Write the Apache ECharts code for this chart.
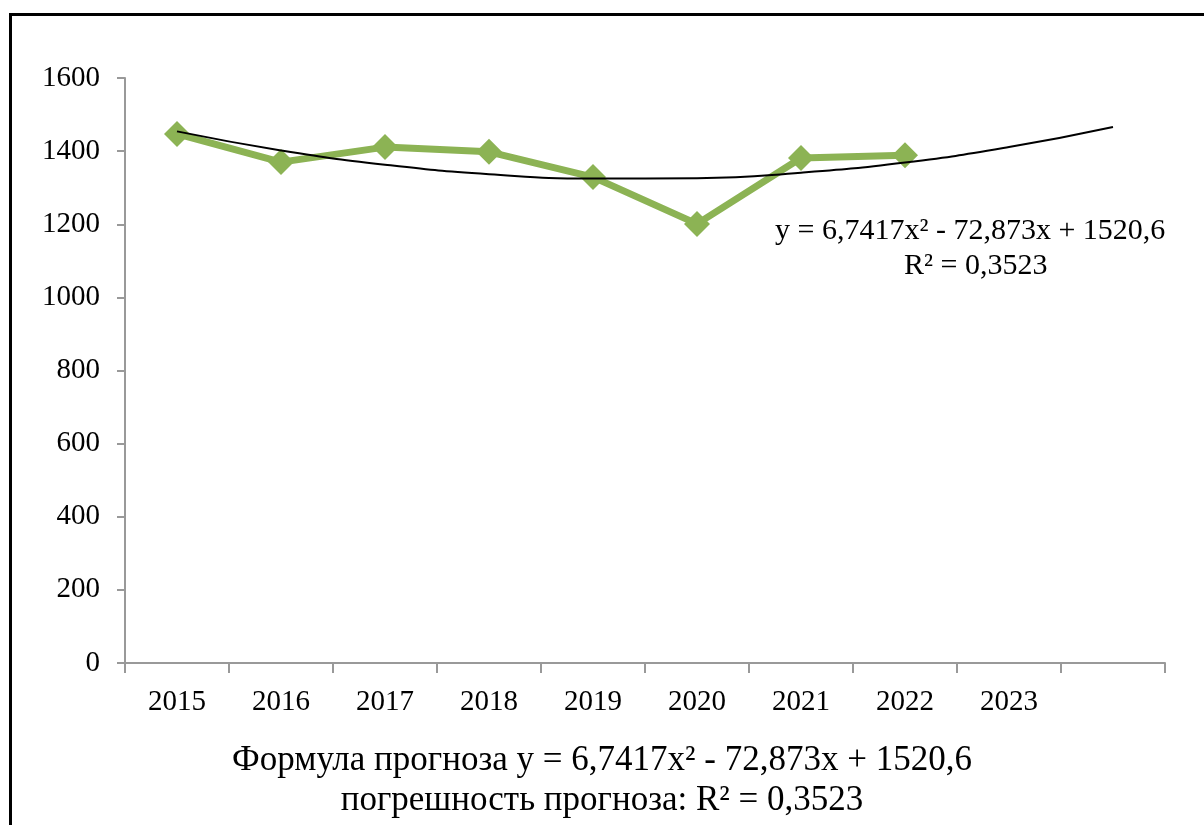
<!DOCTYPE html>
<html>
<head>
<meta charset="utf-8">
<script src="https://cdn.jsdelivr.net/npm/echarts@6/dist/echarts.min.js"></script>
<style>
  html, body { margin: 0; padding: 0; background: #fff; }
  #chart { width: 1204px; height: 825px; }
</style>
</head>
<body>
<div id="chart"></div>
<script>
// годы (последний слот пустой — туда продлена линия тренда)
var years = ['2015', '2016', '2017', '2018', '2019', '2020', '2021', '2022', '2023', ''];
var actual = [1447, 1370, 1411, 1398, 1329, 1201, 1381, 1389, null, null];
// значения полиномиального тренда
var trend = [1454, 1402, 1363, 1337, 1325, 1326, 1341, 1369, 1411, 1466];
var yTicks = [0, 200, 400, 600, 800, 1000, 1200, 1400, 1600];

var font = '"Liberation Serif", "Times New Roman", serif';
var chart = echarts.init(document.getElementById('chart'));

var option = {
  backgroundColor: '#fff',
  animation: false,
  grid: { left: 125, right: 39, top: 78, bottom: 162, containLabel: false },
  xAxis: {
    type: 'category',
    data: years,
    boundaryGap: true,
    axisLine: { lineStyle: { color: '#999', width: 2 } },
    axisTick: { show: true, length: 10, lineStyle: { color: '#999', width: 2 } },
    axisLabel: { color: '#000', fontFamily: font, fontSize: 29, margin: 25 },
    splitLine: { show: false }
  },
  yAxis: {
    type: 'value',
    min: yTicks[0],
    max: yTicks[yTicks.length - 1],
    interval: 200,
    axisLine: { show: true, lineStyle: { color: '#999', width: 2 } },
    axisTick: { show: true, length: 8, lineStyle: { color: '#999', width: 2 } },
    axisLabel: {
      color: '#000', fontFamily: font, fontSize: 29, margin: 25,
      formatter: function (v) { return String(v); }
    },
    splitLine: { show: false }
  },
  series: [
    {
      name: 'факт',
      type: 'line',
      data: actual,
      symbol: 'diamond',
      symbolSize: 26,
      lineStyle: { color: '#8cb354', width: 7 },
      itemStyle: { color: '#8cb354' },
      z: 2
    },
    {
      name: 'тренд',
      type: 'line',
      data: trend,
      smooth: true,
      showSymbol: false,
      symbol: 'none',
      lineStyle: { color: '#000', width: 2 },
      z: 3
    }
  ],
  graphic: [
    {
      type: 'rect',
      left: 8, top: 12,
      shape: { width: 1220, height: 840 },
      style: { fill: 'none', stroke: '#000', lineWidth: 3 },
      silent: true
    },
    {
      type: 'text',
      left: 775, top: 216,
      style: { text: 'y = 6,7417x² - 72,873x + 1520,6', font: '30px ' + font, fill: '#000' }
    },
    {
      type: 'text',
      left: 904, top: 251,
      style: { text: 'R² = 0,3523', font: '30px ' + font, fill: '#000' }
    },
    {
      type: 'text',
      left: 'center', top: 743,
      style: { text: 'Формула прогноза y = 6,7417x² - 72,873x + 1520,6', font: '35px ' + font, fill: '#000', textAlign: 'center' }
    },
    {
      type: 'text',
      left: 'center', top: 783,
      style: { text: 'погрешность прогноза: R² = 0,3523', font: '35px ' + font, fill: '#000', textAlign: 'center' }
    }
  ]
};
chart.setOption(option);
</script>
</body>
</html>
